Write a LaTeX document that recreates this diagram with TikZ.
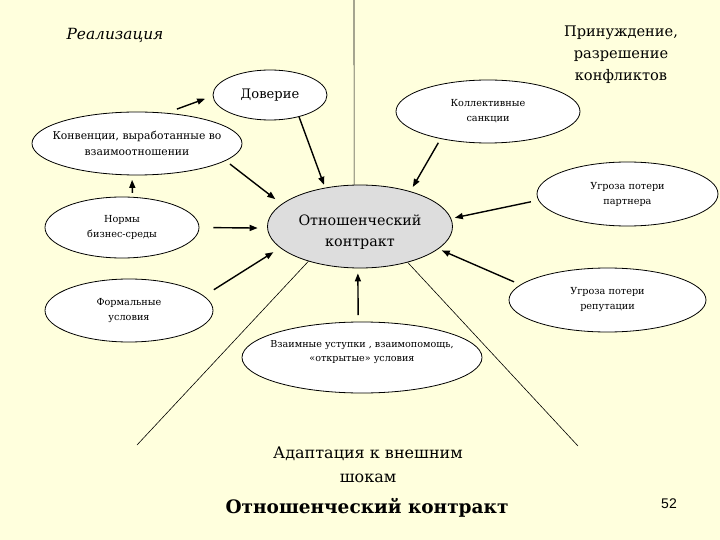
\documentclass[tikz,border=0pt]{standalone}
\usepackage{fontspec}
\setmainfont{DejaVu Serif}
\newfontfamily\serf{DejaVu Serif}
\newfontfamily\arialf{Liberation Sans}
\usetikzlibrary{arrows.meta,shapes.geometric}
\definecolor{bgyellow}{RGB}{255,255,221}
\definecolor{cgray}{RGB}{221,221,221}
\begin{document}
\begin{tikzpicture}[x=1pt,y=-1pt,
  oval/.style={ellipse,draw=black,line width=0.8pt,fill=white,inner xsep=-25pt,inner ysep=0pt,align=center},
  arr/.style={-{Triangle[length=8pt,width=6pt]},line width=1.4pt},
  divline/.style={line width=0.6pt},
  lbl/.style={align=center,inner sep=0pt},
  small/.style={font=\serf\fontsize{9.7}{15}\selectfont}]
\fill[bgyellow] (0,0) rectangle (720,540);
\useasboundingbox (0,0) rectangle (720,540);

\coordinate (topc) at (354,0);
\coordinate (blc) at (137,445);
\coordinate (brc) at (578,446);

\node[oval, minimum width=185pt, minimum height=83pt, fill=cgray, font=\serf\fontsize{14.3}{21.5}\selectfont] (cen) at (360,226.5) {\rule{0pt}{22pt}Отношенческий\\контракт};
\node[oval, minimum width=114pt, minimum height=50pt, font=\serf\fontsize{13.1}{19}\selectfont] (dov) at (270,95) {Доверие};
\node[oval, small, minimum width=184pt, minimum height=63pt] (koll) at (488,111.5) {Коллективные\\санкции};
\node[oval, minimum width=210pt, minimum height=63pt, font=\serf\fontsize{10.8}{16}\selectfont] (konv) at (137,143.5) {Конвенции, выработанные во\\взаимоотношении};
\node[oval, small, minimum width=154pt, minimum height=61pt] (norm) at (122,227.5) {Нормы\\бизнес-среды};
\node[oval, small, minimum width=168pt, minimum height=63pt] (form) at (129,310.5) {Формальные\\условия};
\node[oval, small, minimum width=181pt, minimum height=64pt] (ugp) at (627.5,194) {Угроза потери\\партнера};
\node[oval, small, minimum width=197pt, minimum height=64pt] (ugr) at (607.5,300) {Угроза потери\\репутации};
\node[oval, minimum width=240pt, minimum height=71pt, font=\serf\fontsize{9.6}{13.5}\selectfont] (vz) at (362,357.5) {Взаимные уступки , взаимопомощь,\\«открытые» условия\\~};

\node[lbl, font=\serf\fontsize{15.4}{23}\selectfont\itshape] (real) at (115,35) {Реализация};
\node[lbl, font=\serf\fontsize{14.6}{22}\selectfont] (prin) at (621,55) {Принуждение,\\разрешение\\конфликтов};
\node[lbl, font=\serf\fontsize{16}{24}\selectfont] (adapt) at (368,465) {Адаптация к внешним\\шокам};
\node[lbl, font=\serf\fontsize{18.5}{27}\selectfont\bfseries] (title) at (367,508) {Отношенческий контракт};
\node[lbl, font=\arialf\fontsize{14}{17}\selectfont] (num) at (669,504) {52};

\draw[divline] (cen.98.8) -- (topc);
\draw[divline] (cen.214.4) -- (blc);
\draw[divline] (cen.-37.6) -- (brc);

\draw[arr, shorten <=11pt, shorten >=8pt] (konv.46) -- (dov.181);
\draw[arr, shorten >=3pt] (dov.-37) -- (cen.132);
\draw[arr, shorten <=4.5pt, shorten >=5pt] (koll.210) -- (cen.35.5);
\draw[arr, shorten <=5.4pt, shorten >=8pt] (konv.-11.7) -- (cen.164);
\draw[arr, shorten <=4pt, shorten >=4.5pt] (norm.71.7) -- (konv.-99);
\draw[arr, shorten <=14pt, shorten >=9.5pt] (norm.0) -- (cen.181);
\draw[arr, shorten <=11.6pt, shorten >=8pt] (form.11.4) -- (cen.195.3);
\draw[arr, shorten <=6.5pt, shorten >=5pt] (vz.96.4) -- (cen.267);
\draw[arr, shorten <=7.6pt, shorten >=3.7pt] (ugp.184.3) -- (cen.5.3);
\draw[arr, shorten <=7pt, shorten >=3.6pt] (ugr.170) -- (cen.-16.6);
\end{tikzpicture}
\end{document}
